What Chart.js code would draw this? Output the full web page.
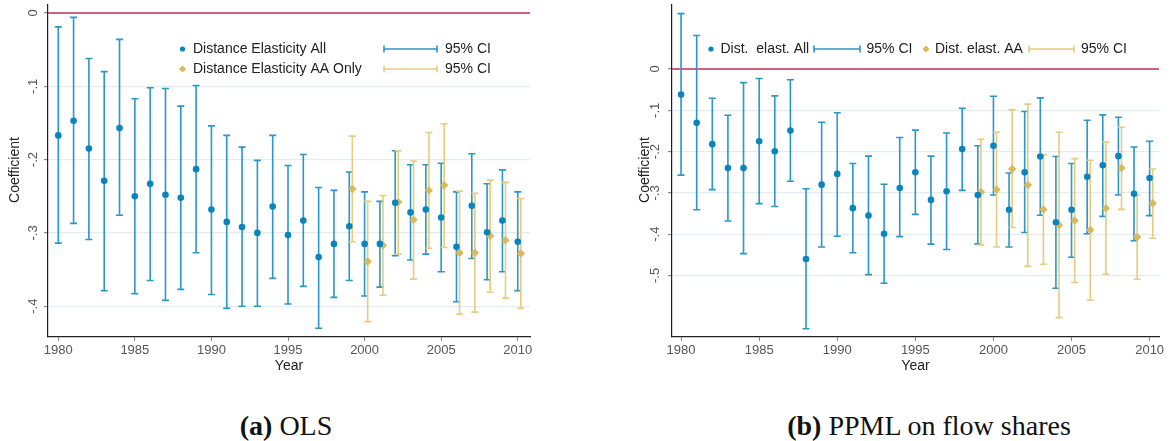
<!DOCTYPE html>
<html>
<head>
<meta charset="utf-8">
<script src="https://cdn.jsdelivr.net/npm/chart.js@4"></script>
<style>
  body { margin: 0; background: #fff; width: 1170px; height: 441px; overflow: hidden; position: relative; }
  canvas { position: absolute; top: 0; }
  #c1 { left: 0; }
  #c2 { left: 624px; }
  .cap { position: absolute; top: 410px; line-height: 32px; font-family: "Liberation Serif", serif; font-size: 28px; color: #111; transform: translateX(-50%); white-space: nowrap; }
  .cap b { font-weight: bold; }
</style>
</head>
<body>
<canvas id="c1" width="545" height="372"></canvas>
<canvas id="c2" width="546" height="372"></canvas>
<div class="cap" style="left:286px"><b>(a)</b> OLS</div>
<div class="cap" style="left:929px"><b>(b)</b> PPML on flow shares</div>
<script>
// data
const years = [1980,1981,1982,1983,1984,1985,1986,1987,1988,1989,1990,1991,1992,1993,1994,1995,
  1996,1997,1998,1999,2000,2001,2002,2003,2004,2005,2006,2007,2008,2009,2010];
const aaYears = [1999,2000,2001,2002,2003,2004,2005,2006,2007,2008,2009,2010];
const xTicks = [1980,1985,1990,1995,2000,2005,2010];

// (a) OLS
const olsAll = [-0.167,-0.147,-0.185,-0.229,-0.157,-0.250,-0.233,-0.248,-0.252,-0.213,-0.268,-0.285,-0.292,-0.300,-0.264,-0.303,
  -0.283,-0.333,-0.315,-0.291,-0.315,-0.315,-0.259,-0.272,-0.268,-0.279,-0.319,-0.263,-0.299,-0.283,-0.312];
const olsAllHi = [-0.019,-0.006,-0.062,-0.080,-0.036,-0.117,-0.102,-0.103,-0.127,-0.099,-0.154,-0.167,-0.183,-0.201,-0.167,-0.208,
  -0.193,-0.238,-0.242,-0.217,-0.244,-0.257,-0.188,-0.207,-0.207,-0.205,-0.244,-0.192,-0.233,-0.214,-0.244];
const olsAllLo = [-0.314,-0.287,-0.309,-0.379,-0.276,-0.383,-0.365,-0.392,-0.377,-0.327,-0.384,-0.403,-0.400,-0.400,-0.362,-0.397,
  -0.373,-0.430,-0.388,-0.365,-0.386,-0.374,-0.331,-0.337,-0.329,-0.353,-0.394,-0.335,-0.364,-0.353,-0.379];
const olsAA = [-0.240,-0.339,-0.317,-0.258,-0.282,-0.242,-0.235,-0.327,-0.327,-0.304,-0.310,-0.328];
const olsAAHi = [-0.168,-0.257,-0.249,-0.188,-0.202,-0.163,-0.151,-0.243,-0.246,-0.228,-0.231,-0.253];
const olsAALo = [-0.312,-0.421,-0.385,-0.329,-0.363,-0.321,-0.320,-0.411,-0.408,-0.381,-0.389,-0.403];
const olsYTicks = [0,-0.1,-0.2,-0.3,-0.4];

// (b) PPML
const ppmlAll = [-0.062,-0.130,-0.182,-0.240,-0.240,-0.175,-0.199,-0.149,-0.460,-0.280,-0.254,-0.337,-0.355,-0.399,-0.288,-0.250,
  -0.317,-0.296,-0.194,-0.305,-0.186,-0.341,-0.250,-0.212,-0.371,-0.341,-0.261,-0.233,-0.211,-0.302,-0.264];
const ppmlAllHi = [0.134,0.081,-0.071,-0.112,-0.033,-0.023,-0.065,-0.026,-0.290,-0.129,-0.106,-0.229,-0.211,-0.279,-0.166,-0.148,
  -0.211,-0.155,-0.095,-0.186,-0.066,-0.252,-0.103,-0.070,-0.212,-0.229,-0.124,-0.111,-0.117,-0.189,-0.175];
const ppmlAllLo = [-0.257,-0.341,-0.292,-0.368,-0.447,-0.326,-0.333,-0.272,-0.629,-0.431,-0.405,-0.445,-0.498,-0.519,-0.406,-0.352,
  -0.424,-0.437,-0.294,-0.424,-0.305,-0.431,-0.396,-0.354,-0.531,-0.456,-0.399,-0.357,-0.305,-0.416,-0.355];
const ppmlAA = [-0.298,-0.292,-0.242,-0.281,-0.340,-0.378,-0.367,-0.390,-0.337,-0.240,-0.407,-0.325];
const ppmlAAHi = [-0.170,-0.153,-0.099,-0.085,-0.208,-0.153,-0.217,-0.221,-0.177,-0.141,-0.305,-0.242];
const ppmlAALo = [-0.426,-0.431,-0.384,-0.478,-0.473,-0.602,-0.517,-0.560,-0.497,-0.340,-0.509,-0.410];
const ppmlYTicks = [0,-0.1,-0.2,-0.3,-0.4,-0.5];

const BLUE = '#0a84bd', BLUE_CI = '#2b96c8';
const GOLD = '#d8ba5a', GOLD_CI = '#e4cc80';
const FONT = '"Liberation Sans", Arial, sans-serif';

// draws the red zero line and the CI whiskers under the points
const errorBars = {
  id: 'errorBars',
  beforeDatasetsDraw(chart) {
    const { ctx, chartArea, scales: { x, y } } = chart;
    ctx.save();
    const y0 = y.getPixelForValue(0);
    ctx.strokeStyle = '#c8284e';
    ctx.lineWidth = 1.5;
    ctx.beginPath();
    ctx.moveTo(chartArea.left, y0);
    ctx.lineTo(chartArea.right, y0);
    ctx.stroke();
    chart.data.datasets.forEach(ds => {
      ctx.strokeStyle = ds.ciColor;
      ctx.lineWidth = 1.6;
      ds.data.forEach((p, i) => {
        const px = x.getPixelForValue(p.x);
        const top = y.getPixelForValue(ds.ciHi[i]);
        const bot = y.getPixelForValue(ds.ciLo[i]);
        ctx.beginPath();
        ctx.moveTo(px, top); ctx.lineTo(px, bot);
        ctx.moveTo(px - 3.5, top); ctx.lineTo(px + 3.5, top);
        ctx.moveTo(px - 3.5, bot); ctx.lineTo(px + 3.5, bot);
        ctx.stroke();
      });
    });
    ctx.restore();
  }
};

function ciKey(ctx, x1, x2, y, color) {
  ctx.strokeStyle = color;
  ctx.lineWidth = 1.6;
  ctx.beginPath();
  ctx.moveTo(x1, y); ctx.lineTo(x2, y);
  ctx.moveTo(x1, y - 3.5); ctx.lineTo(x1, y + 3.5);
  ctx.moveTo(x2, y - 3.5); ctx.lineTo(x2, y + 3.5);
  ctx.stroke();
}
function dotKey(ctx, x, y) {
  ctx.fillStyle = BLUE;
  ctx.beginPath(); ctx.arc(x, y, 2.6, 0, Math.PI * 2); ctx.fill();
}
function diamondKey(ctx, x, y) {
  ctx.fillStyle = GOLD;
  ctx.beginPath();
  ctx.moveTo(x, y - 3.6); ctx.lineTo(x + 3.6, y); ctx.lineTo(x, y + 3.6); ctx.lineTo(x - 3.6, y);
  ctx.closePath(); ctx.fill();
}

// rotated y labels, axis titles and the legend
const textLayer = {
  id: 'textLayer',
  afterDraw(chart, args, opts) {
    const { ctx, chartArea, scales: { y } } = chart;
    ctx.save();
    ctx.textBaseline = 'middle';
    ctx.fillStyle = '#555';
    ctx.font = '13px ' + FONT;
    ctx.textAlign = 'center';
    y.ticks.forEach(t => {
      const s = t.value === 0 ? '0' : t.value.toFixed(1).replace('0.', '.');
      ctx.save();
      ctx.translate(opts.tickX, y.getPixelForValue(t.value));
      ctx.rotate(-Math.PI / 2);
      ctx.fillText(s, 0, 0);
      ctx.restore();
    });
    ctx.fillStyle = '#222';
    ctx.font = '14px ' + FONT;
    ctx.save();
    ctx.translate(opts.titleX, 170);
    ctx.rotate(-Math.PI / 2);
    ctx.fillText('Coefficient', 0, 0);
    ctx.restore();
    ctx.fillText('Year', (chartArea.left + chartArea.right) / 2, 366);

    ctx.textAlign = 'left';
    opts.legend(ctx);
    ctx.restore();
  }
};

function makeChart(id, cfg) {
  return new Chart(document.getElementById(id), {
    type: 'scatter',
    data: {
      datasets: [
        {
          data: years.map((yr, i) => ({ x: yr, y: cfg.all[i] })),
          ciHi: cfg.allHi, ciLo: cfg.allLo, ciColor: BLUE_CI,
          pointStyle: 'circle', pointRadius: 3.3, backgroundColor: BLUE, borderWidth: 0
        },
        {
          data: aaYears.map((yr, i) => ({ x: yr + 0.2, y: cfg.aa[i] })),
          ciHi: cfg.aaHi, ciLo: cfg.aaLo, ciColor: GOLD_CI,
          pointStyle: 'rectRot', pointRadius: 4.2, backgroundColor: GOLD, borderWidth: 0
        }
      ]
    },
    options: {
      responsive: false,
      animation: false,
      layout: { padding: { left: 0, right: cfg.padRight, top: cfg.padTop, bottom: 0 } },
      plugins: {
        legend: { display: false },
        tooltip: { enabled: false },
        textLayer: { tickX: cfg.tickX, titleX: cfg.titleX, legend: cfg.legend }
      },
      scales: {
        x: {
          type: 'linear', min: cfg.xMin, max: cfg.xMax,
          afterBuildTicks: s => { s.ticks = xTicks.map(v => ({ value: v })); },
          afterFit: s => { s.height = 35; },
          ticks: {
            autoSkip: false, maxRotation: 0, padding: 2, color: '#555',
            font: { family: FONT, size: 13 },
            callback: v => String(v)
          },
          grid: { drawOnChartArea: false, tickLength: 4, tickColor: '#888' },
          border: { color: '#222', width: 1.2 }
        },
        y: {
          min: cfg.yMin, max: cfg.yMax,
          afterBuildTicks: s => { s.ticks = cfg.yTicks.map(v => ({ value: v })); },
          afterFit: s => { s.width = 48; },
          ticks: { display: false },
          grid: {
            color: c => (c.tick && c.tick.value === 0) ? 'rgba(0,0,0,0)' : '#e3ecef',
            tickColor: '#888', tickLength: 4, lineWidth: 1.2
          },
          border: { color: '#222', width: 1.2 }
        }
      }
    },
    plugins: [errorBars, textLayer]
  });
}

makeChart('c1', {
  all: olsAll, allHi: olsAllHi, allLo: olsAllLo,
  aa: olsAA, aaHi: olsAAHi, aaLo: olsAALo,
  yTicks: olsYTicks, yMin: -0.442, yMax: 0.012,
  xMin: 1979.33, xMax: 2010.8, padRight: 15, padTop: 4,
  tickX: 33, titleX: 15,
  legend(ctx) {
    ctx.fillStyle = '#222';
    dotKey(ctx, 182.5, 49);
    ctx.fillStyle = '#222';
    ctx.fillText('Distance Elasticity All', 193, 49);
    ciKey(ctx, 384, 437, 49, BLUE_CI);
    ctx.fillText('95% CI', 445, 49);
    diamondKey(ctx, 182.5, 69);
    ctx.fillStyle = '#222';
    ctx.fillText('Distance Elasticity AA Only', 193, 69);
    ciKey(ctx, 384, 437, 69, GOLD_CI);
    ctx.fillText('95% CI', 445, 69);
  }
});

makeChart('c2', {
  all: ppmlAll, allHi: ppmlAllHi, allLo: ppmlAllLo,
  aa: ppmlAA, aaHi: ppmlAAHi, aaLo: ppmlAALo,
  yTicks: ppmlYTicks, yMin: -0.649, yMax: 0.155,
  xMin: 1979.42, xMax: 2010.6, padRight: 11, padTop: 5,
  tickX: 31, titleX: 21,
  legend(ctx) {
    const o = 624;
    dotKey(ctx, 711 - o, 49);
    ctx.fillStyle = '#222';
    ctx.fillText('Dist.  elast. All', 720.5 - o, 49);
    ciKey(ctx, 814 - o, 860 - o, 49, BLUE_CI);
    ctx.fillText('95% CI', 866.5 - o, 49);
    diamondKey(ctx, 926 - o, 49);
    ctx.fillStyle = '#222';
    ctx.fillText('Dist. elast. AA', 935 - o, 49);
    ciKey(ctx, 1029 - o, 1074 - o, 49, GOLD_CI);
    ctx.fillText('95% CI', 1081 - o, 49);
  }
});
</script>
</body>
</html>
